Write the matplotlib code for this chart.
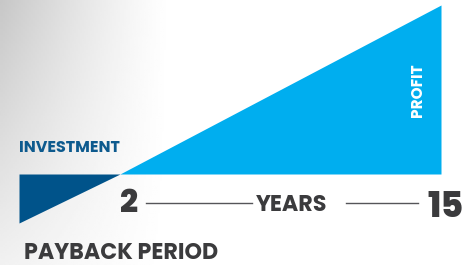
import matplotlib.pyplot as plt
import numpy as np

# cumulative cash position: investment dip, payback point, profit at end
time_pos = [0, 1, 4.18]
cash = [-49, 0, 169]
year_labels = ["2", "15"]
axis_title = "YEARS"
chart_title = "PAYBACK PERIOD"

W, H = 476, 265
fig = plt.figure(figsize=(W / 100, H / 100), dpi=100)

# grey gradient background in the top-left corner
bg = fig.add_axes([0, 0, 1, 1])
xx, yy = np.meshgrid(np.linspace(0, W, 240), np.linspace(0, H, 140))
shade = 1 - 0.22 * np.clip(1 - xx / 170, 0, 1) ** 1.2 * (1 - 0.75 * yy / H)
bg.imshow(shade, cmap="gray", vmin=0, vmax=1, extent=[0, W, H, 0], aspect="auto")
bg.set_axis_off()

ax = fig.add_axes([19 / W, (H - 223) / H, (441 - 19) / W, (223 - 5) / H])
ax.set_xlim(time_pos[0], time_pos[-1])
ax.set_ylim(cash[0], cash[-1])
ax.set_axis_off()
ax.patch.set_alpha(0)

ax.fill_between(time_pos[:2], cash[:2], 0, color="#00538a", lw=0)
ax.fill_between(time_pos[1:], cash[1:], 0, color="#00aeef", lw=0)

font = "Poppins"
dark = "#3b3b3d"
ax.text(time_pos[0], 22, "INVESTMENT", color="#0d5a8e", fontsize=11.5,
        fontweight=700, family=font, ha="left", va="baseline")
ax.text(time_pos[-1] - 0.15, 84, "PROFIT", color="white", fontsize=11,
        fontweight=700, family=font, rotation=90, ha="right", va="center")

fig.text(120 / W, (H - 212) / H, year_labels[0], color=dark, fontsize=23,
         fontweight=800, family=font, ha="left", va="baseline")
fig.text(464 / W, (H - 217) / H, year_labels[1], color=dark, fontsize=25,
         fontweight=800, family=font, ha="right", va="baseline")
fig.text(292 / W, (H - 211) / H, axis_title, color=dark, fontsize=16,
         fontweight=700, family=font, ha="center", va="baseline")
fig.text(24 / W, (H - 259) / H, chart_title, color=dark, fontsize=16,
         fontweight=700, family=font, ha="left", va="baseline")

bg.plot([146, 252], [203, 203], color="#555559", lw=1)
bg.plot([346, 418], [203, 203], color="#555559", lw=1)
bg.set_xlim(0, W)
bg.set_ylim(H, 0)

fig.savefig("out.png", dpi=100)
